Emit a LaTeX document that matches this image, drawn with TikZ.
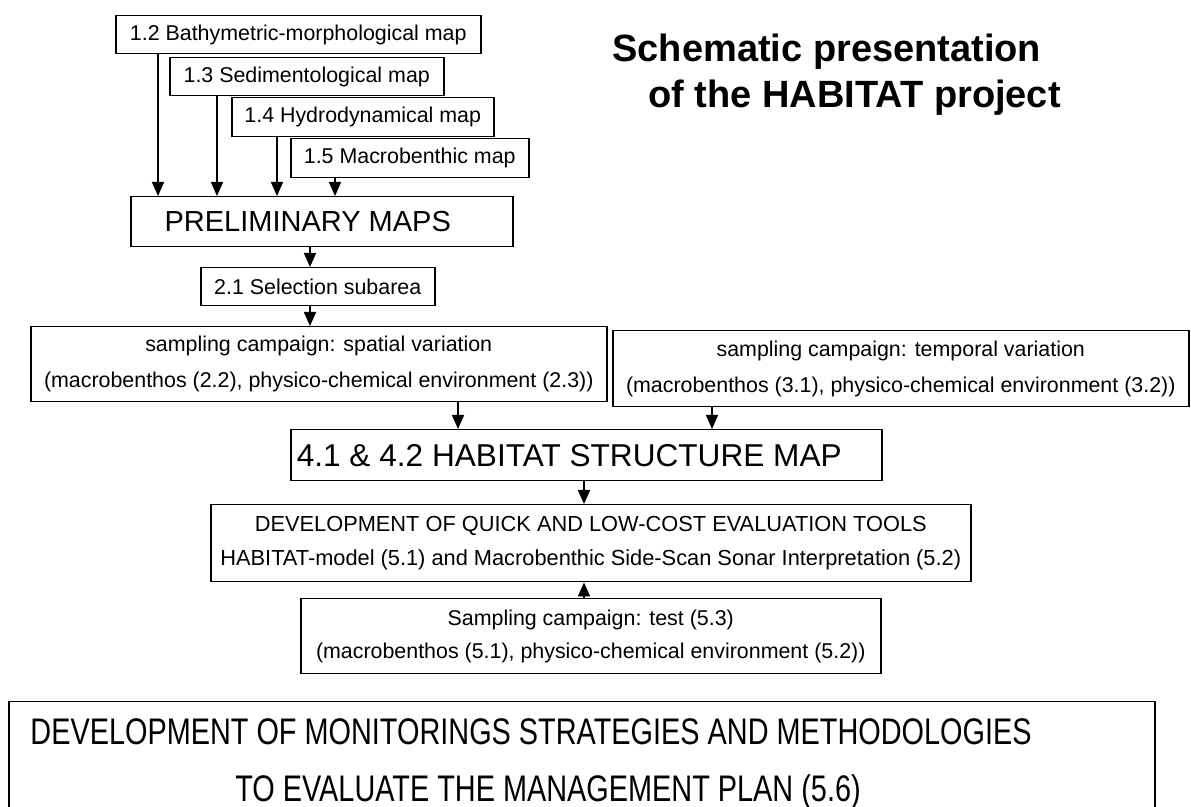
\documentclass[tikz,border=0pt]{standalone}
\usepackage{fontspec}
\setmainfont{Liberation Sans}
\newfontfamily\narrowsans[FakeStretch=0.78]{Liberation Sans}
\usetikzlibrary{arrows.meta, positioning}

\tikzset{
  mapbox/.style={draw, line width=0.75pt, anchor=north west, inner sep=0pt,
                 align=center, font=\fontsize{10.7}{18}\selectfont},
  bigbox/.style={mapbox, font=\fontsize{14.5}{17}\selectfont},
  flow/.style={-{Triangle[width=6pt,length=7pt]}, line width=0.75pt},
}

\begin{document}
\begin{tikzpicture}[x=0.5pt, y=-0.5pt]
  \useasboundingbox (0,0) rectangle (1191,807);

  %% --- title ---
  \node[anchor=north west, inner sep=0pt, align=left,
        font=\bfseries\fontsize{19}{23}\selectfont] (title) at (612,34)
    {Schematic presentation\\\hspace*{18pt}of the HABITAT project};

  %% --- stacked map boxes ---
  \node[mapbox, minimum width=182.5pt, minimum height=19pt] (bathy) at (115,15)
    {1.2 Bathymetric-morphological map};
  \node[mapbox, minimum width=137pt, minimum height=19pt] (sedim) at (169,57)
    {1.3 Sedimentological map};
  \node[mapbox, minimum width=131pt, minimum height=19.5pt] (hydro) at (231,97)
    {1.4 Hydrodynamical map};
  \node[mapbox, minimum width=119pt, minimum height=19.5pt] (macro) at (290,138)
    {1.5 Macrobenthic map};
  \node[bigbox, minimum width=191pt, minimum height=25pt] (prelim) at (130,196)
    {\hspace*{-14pt}PRELIMINARY MAPS};

  \foreach \src/\xx in {bathy/158, sedim/217, hydro/277, macro/335} {
    \draw[flow] (\src.south -| \xx,0) -- (prelim.north -| \xx,0);
  }

  %% --- selection and sampling ---
  \node[mapbox, minimum width=117pt, minimum height=19pt] (subarea) at (200,267)
    {2.1 Selection subarea};
  \node[mapbox, minimum width=288pt, minimum height=37.5pt] (spatial) at (30,326)
    {sampling campaign: spatial variation\\
     (macrobenthos (2.2), physico-chemical environment (2.3))};
  \node[mapbox, minimum width=288pt, minimum height=38pt] (temporal) at (612,330)
    {sampling campaign: temporal variation\\
     (macrobenthos (3.1), physico-chemical environment (3.2))};

  \draw[flow] (prelim.south -| 310,0) -- (subarea.north -| 310,0);
  \draw[flow] (subarea.south -| 310,0) -- (spatial.north -| 310,0);

  %% --- habitat structure map ---
  \node[bigbox, minimum width=295.5pt, minimum height=25.5pt,
        font=\fontsize{15.8}{18}\selectfont] (habitat) at (290,429)
    {4.1 \& 4.2 HABITAT STRUCTURE MAP\hspace*{17pt}};
  \draw[flow] (spatial.south -| 458,0) -- (habitat.north -| 458,0);
  \draw[flow] (temporal.south -| 712,0) -- (habitat.north -| 712,0);

  %% --- evaluation tools and test campaign ---
  \node[mapbox, minimum width=380pt, minimum height=38.5pt,
        font=\fontsize{10.9}{17}\selectfont] (tools) at (210,504)
    {DEVELOPMENT OF QUICK AND LOW-COST EVALUATION TOOLS\\
     HABITAT-model (5.1) and Macrobenthic Side-Scan Sonar Interpretation (5.2)};
  \node[mapbox, minimum width=290pt, minimum height=37.5pt,
        font=\fontsize{10.7}{16.5}\selectfont] (test) at (300,598)
    {Sampling campaign: test (5.3)\\
     (macrobenthos (5.1), physico-chemical environment (5.2))};

  \draw[flow] (habitat.south -| 584,0) -- (tools.north -| 584,0);
  \draw[flow] (test.north -| 584,0) -- (tools.south -| 584,0);

  %% --- monitoring strategies (runs off the page) ---
  \node[mapbox, minimum width=573pt, minimum height=70pt] (monitor) at (8,701) {};
  \node[anchor=north, inner sep=0pt, align=center,
        font=\narrowsans\fontsize{18.5}{28.5}\selectfont] (monitortext) at (531,718)
    {DEVELOPMENT OF MONITORINGS STRATEGIES AND METHODOLOGIES\\
     \hspace*{17pt}TO EVALUATE THE MANAGEMENT PLAN (5.6)};
\end{tikzpicture}
\end{document}
